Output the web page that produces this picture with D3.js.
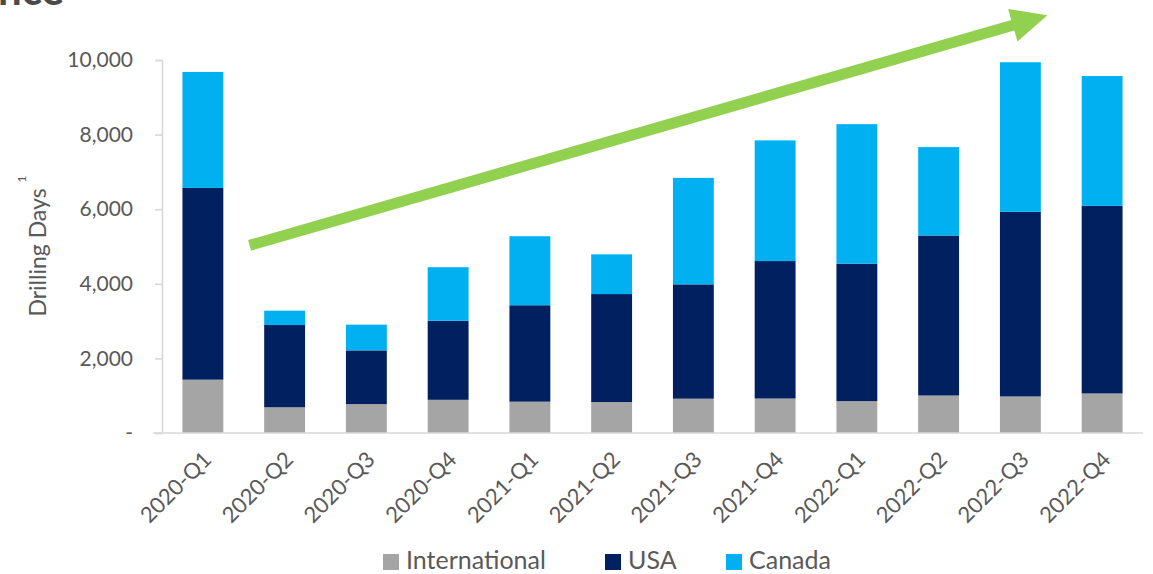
<!DOCTYPE html>
<html>
<head>
<meta charset="utf-8">
<script src="https://cdn.jsdelivr.net/npm/d3@7"></script>
<style>
  html, body { margin: 0; padding: 0; background: #fff; }
  svg { display: block; font-family: Lato, "Open Sans", sans-serif; }
</style>
</head>
<body>
<svg id="chart" width="1153" height="574"></svg>
<script>
// Quarterly drilling days by region (stacked)
const quarters = ["2020-Q1","2020-Q2","2020-Q3","2020-Q4","2021-Q1","2021-Q2",
                  "2021-Q3","2021-Q4","2022-Q1","2022-Q2","2022-Q3","2022-Q4"];
const international = [1430, 690, 775, 890, 840, 830, 920, 925, 855, 1005, 980, 1060];
const usa           = [5140, 2205, 1440, 2120, 2585, 2895, 3065, 3685, 3685, 4290, 4950, 5030];
const canada        = [3110, 385, 690, 1435, 1850, 1065, 2855, 3235, 3740, 2370, 4010, 3480];
const seriesNames   = ["International", "USA", "Canada"];
const seriesColors  = ["#A5A5A5", "#002060", "#00B0F0"];
const yTicks        = [0, 2000, 4000, 6000, 8000, 10000];

const svg = d3.select("#chart");
const textColor = "#595959";
const axisColor = "#D9D9D9";

const plotLeft = 162, plotRight = 1143, plotTop = 60, plotBottom = 433;

const x = d3.scaleBand().domain(quarters).range([plotLeft, plotRight])
  .paddingInner(0.5).paddingOuter(0.25);
const y = d3.scaleLinear().domain([0, 10000]).range([plotBottom, plotTop]);

// heading continues above the top edge of the slide region
svg.append("text")
  .attr("x", -2).attr("y", 5)
  .attr("font-size", 42).attr("font-weight", "bold")
  .attr("fill", "#4a4a4a")
  .text("nce");

// stacked bars
const rows = quarters.map((q, i) => ({
  quarter: q, International: international[i], USA: usa[i], Canada: canada[i]
}));
const stacked = d3.stack().keys(seriesNames)(rows);

svg.append("g").selectAll("g")
  .data(stacked)
  .join("g")
    .attr("fill", (d, i) => seriesColors[i])
  .selectAll("rect")
  .data(d => d)
  .join("rect")
    .attr("x", d => x(d.data.quarter))
    .attr("width", x.bandwidth())
    .attr("y", d => y(d[1]))
    .attr("height", d => y(d[0]) - y(d[1]));

// y axis
const yAxis = d3.axisLeft(y)
  .tickValues(yTicks)
  .tickSize(7)
  .tickPadding(22)
  .tickFormat(v => v === 0 ? "-" : d3.format(",")(v));

const gy = svg.append("g")
  .attr("transform", `translate(${plotLeft},0)`)
  .call(yAxis);
gy.select(".domain").attr("stroke", axisColor).attr("stroke-width", 1.6);
gy.selectAll(".tick line").attr("stroke", axisColor).attr("stroke-width", 1.6);
gy.selectAll(".tick text")
  .attr("fill", textColor)
  .attr("font-size", 21)
  .attr("font-family", "Lato, 'Open Sans', sans-serif");

// x axis baseline and rotated category labels
const xAxis = d3.axisBottom(x).tickSize(0).tickPadding(0);
const gx = svg.append("g")
  .attr("transform", `translate(0,${plotBottom})`)
  .call(xAxis);
gx.select(".domain").remove();
gx.append("line")
  .attr("x1", plotLeft - 9).attr("x2", plotRight)
  .attr("y1", 0).attr("y2", 0)
  .attr("stroke", axisColor).attr("stroke-width", 1.6);
gx.selectAll(".tick text")
  .attr("fill", textColor)
  .attr("font-size", 22)
  .attr("font-family", "Lato, 'Open Sans', sans-serif")
  .attr("text-anchor", "end")
  .attr("dy", 0)
  .attr("y", 0)
  .attr("transform", "translate(10,28) rotate(-45)");

// y axis title with footnote marker
const yTitle = svg.append("text")
  .attr("transform", `translate(46,246) rotate(-90)`)
  .attr("text-anchor", "middle")
  .attr("fill", textColor)
  .attr("font-size", 23);
yTitle.append("tspan").text("Drilling Days");
yTitle.append("tspan").attr("dy", -20).attr("dx", 6).attr("font-size", 12).text("1");

// growth arrow annotation, anchored in data space
const arrowStart = [x("2020-Q2") + x.bandwidth() / 2 - 35, y(5030)];
const arrowTip = [x("2022-Q3") + x.bandwidth() / 2 + 27, y(11200)];
(function drawArrow() {
  const dx = arrowTip[0] - arrowStart[0], dy = arrowTip[1] - arrowStart[1];
  const len = Math.hypot(dx, dy);
  const ux = dx / len, uy = dy / len;
  const nx = -uy, ny = ux;
  const shaftHalf = 5.5, headHalf = 17, headLen = 36;
  const bx = arrowTip[0] - ux * headLen, by = arrowTip[1] - uy * headLen;
  const pts = [
    [arrowStart[0] + nx * shaftHalf, arrowStart[1] + ny * shaftHalf],
    [bx + nx * shaftHalf, by + ny * shaftHalf],
    [bx + nx * headHalf, by + ny * headHalf],
    arrowTip,
    [bx - nx * headHalf, by - ny * headHalf],
    [bx - nx * shaftHalf, by - ny * shaftHalf],
    [arrowStart[0] - nx * shaftHalf, arrowStart[1] - ny * shaftHalf]
  ];
  svg.append("path")
    .attr("d", d3.line()(pts) + "Z")
    .attr("fill", "#92D050");
})();

// legend
const legendX = [383, 605, 726];
const legend = svg.append("g");
seriesNames.forEach((name, i) => {
  legend.append("rect")
    .attr("x", legendX[i]).attr("y", 554)
    .attr("width", 16).attr("height", 16)
    .attr("fill", seriesColors[i]);
  legend.append("text")
    .attr("x", legendX[i] + 23).attr("y", 569)
    .attr("fill", textColor)
    .attr("font-size", 25)
    .text(name);
});
</script>
</body>
</html>
